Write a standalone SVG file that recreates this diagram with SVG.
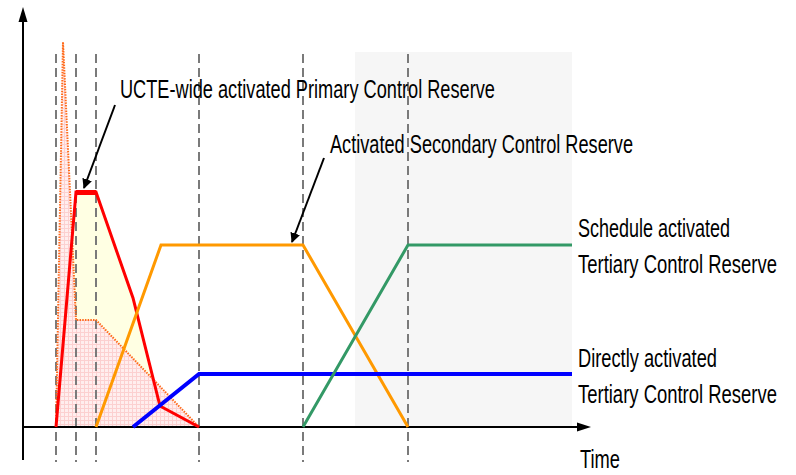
<svg xmlns="http://www.w3.org/2000/svg" width="796" height="475" viewBox="0 0 796 475">
  <defs>
    <style>
      .lbl { font-family: "Liberation Sans", Arial, sans-serif; font-size: 26px; fill: #000; }
      .vdash { stroke: #7a7a7a; stroke-width: 2; stroke-dasharray: 9 5; fill: none; }
      .curve { fill: none; stroke-linejoin: miter; stroke-linecap: butt; }
      .ann { stroke: #000; stroke-width: 2; fill: none; }
    </style>
    <pattern id="pinkgrid" width="4" height="4" patternUnits="userSpaceOnUse">
      <rect width="4" height="4" fill="#ffeeee"/>
      <path d="M0 0.5 H4 M0.5 0 V4" stroke="#fcd0d0" stroke-width="1"/>
    </pattern>
    <marker id="ah" viewBox="0 0 10 10" refX="9" refY="5" markerWidth="5" markerHeight="5" orient="auto" markerUnits="strokeWidth">
      <path d="M0 0 L10 5 L0 10 z" fill="#000"/>
    </marker>
  </defs>

  <rect width="796" height="475" fill="#ffffff"/>

  <!-- shaded period -->
  <rect id="shade" x="355" y="52" width="217" height="374" fill="#f6f6f6"/>

  <!-- areas -->
  <g id="areas">
    <polygon points="56,427 76,192 96,192 133,298 160,406 199,427" fill="#ffffe3"/>
    <polygon points="56,427 63,42 76,320 96,320 199,427" fill="url(#pinkgrid)"/>
  </g>

  <!-- dashed time markers -->
  <g id="markers">
    <line class="vdash" x1="56" y1="54" x2="56" y2="462"/>
    <line class="vdash" x1="76" y1="54" x2="76" y2="462"/>
    <line class="vdash" x1="96" y1="54" x2="96" y2="462"/>
    <line class="vdash" x1="199" y1="54" x2="199" y2="462"/>
    <line class="vdash" x1="303" y1="54" x2="303" y2="462"/>
    <line class="vdash" x1="408" y1="54" x2="408" y2="462"/>
  </g>

  <!-- axes -->
  <g id="axes">
    <line x1="23" y1="460" x2="23" y2="20" stroke="#000" stroke-width="2"/>
    <polygon points="23,7 18.5,22 27.5,22" fill="#000"/>
    <line x1="23" y1="427" x2="580" y2="427" stroke="#000" stroke-width="2"/>
    <polygon points="591,427 577,422.5 577,431.5" fill="#000"/>
  </g>

  <!-- curves -->
  <g id="connectors">
    <polyline id="primary-theoretical" class="curve" points="56,427 63,42 76,320 96,320 199,427" stroke="#ff6a1a" stroke-width="2" stroke-dasharray="1.5 1.2"/>
    <polyline id="primary" class="curve" points="56,427 76,192 96,192 133,298 160,406 199,427" stroke="#ff0000" stroke-width="3"/>
    <line x1="76" y1="192.5" x2="96" y2="192.5" stroke="#ff0000" stroke-width="5"/>
    <polyline id="secondary" class="curve" points="96,427 161,245 303,245 408,427" stroke="#ff9900" stroke-width="3"/>
    <polyline id="direct-tertiary" class="curve" points="133,427 199,374 572,374" stroke="#0000ff" stroke-width="4"/>
    <polyline id="schedule-tertiary" class="curve" points="303,427 408,245 572,245" stroke="#339966" stroke-width="3"/>
    <line class="ann" x1="115" y1="105" x2="84" y2="188" marker-end="url(#ah)"/>
    <line class="ann" x1="324" y1="158" x2="292" y2="242" marker-end="url(#ah)"/>
  </g>

  <!-- labels (horizontally condensed like the reference) -->
  <g transform="scale(0.7,1)">
    <g id="label-primary"><text class="lbl" x="171.4" y="98" textLength="535.7" lengthAdjust="spacingAndGlyphs">UCTE-wide activated Primary Control Reserve</text></g>
    <g id="label-secondary"><text class="lbl" x="471.4" y="153" textLength="432.9" lengthAdjust="spacingAndGlyphs">Activated Secondary Control Reserve</text></g>
    <g id="label-schedule">
      <text class="lbl" x="825.7" y="237" textLength="217.1" lengthAdjust="spacingAndGlyphs">Schedule activated</text>
      <text class="lbl" x="825.7" y="273" textLength="284.3" lengthAdjust="spacingAndGlyphs">Tertiary Control Reserve</text>
    </g>
    <g id="label-direct">
      <text class="lbl" x="825.7" y="367" textLength="198.6" lengthAdjust="spacingAndGlyphs">Directly activated</text>
      <text class="lbl" x="825.7" y="403" textLength="284.3" lengthAdjust="spacingAndGlyphs">Tertiary Control Reserve</text>
    </g>
    <g id="label-time"><text class="lbl" x="828.6" y="468.5" font-size="24" textLength="57.1" lengthAdjust="spacingAndGlyphs">Time</text></g>
  </g>
</svg>
